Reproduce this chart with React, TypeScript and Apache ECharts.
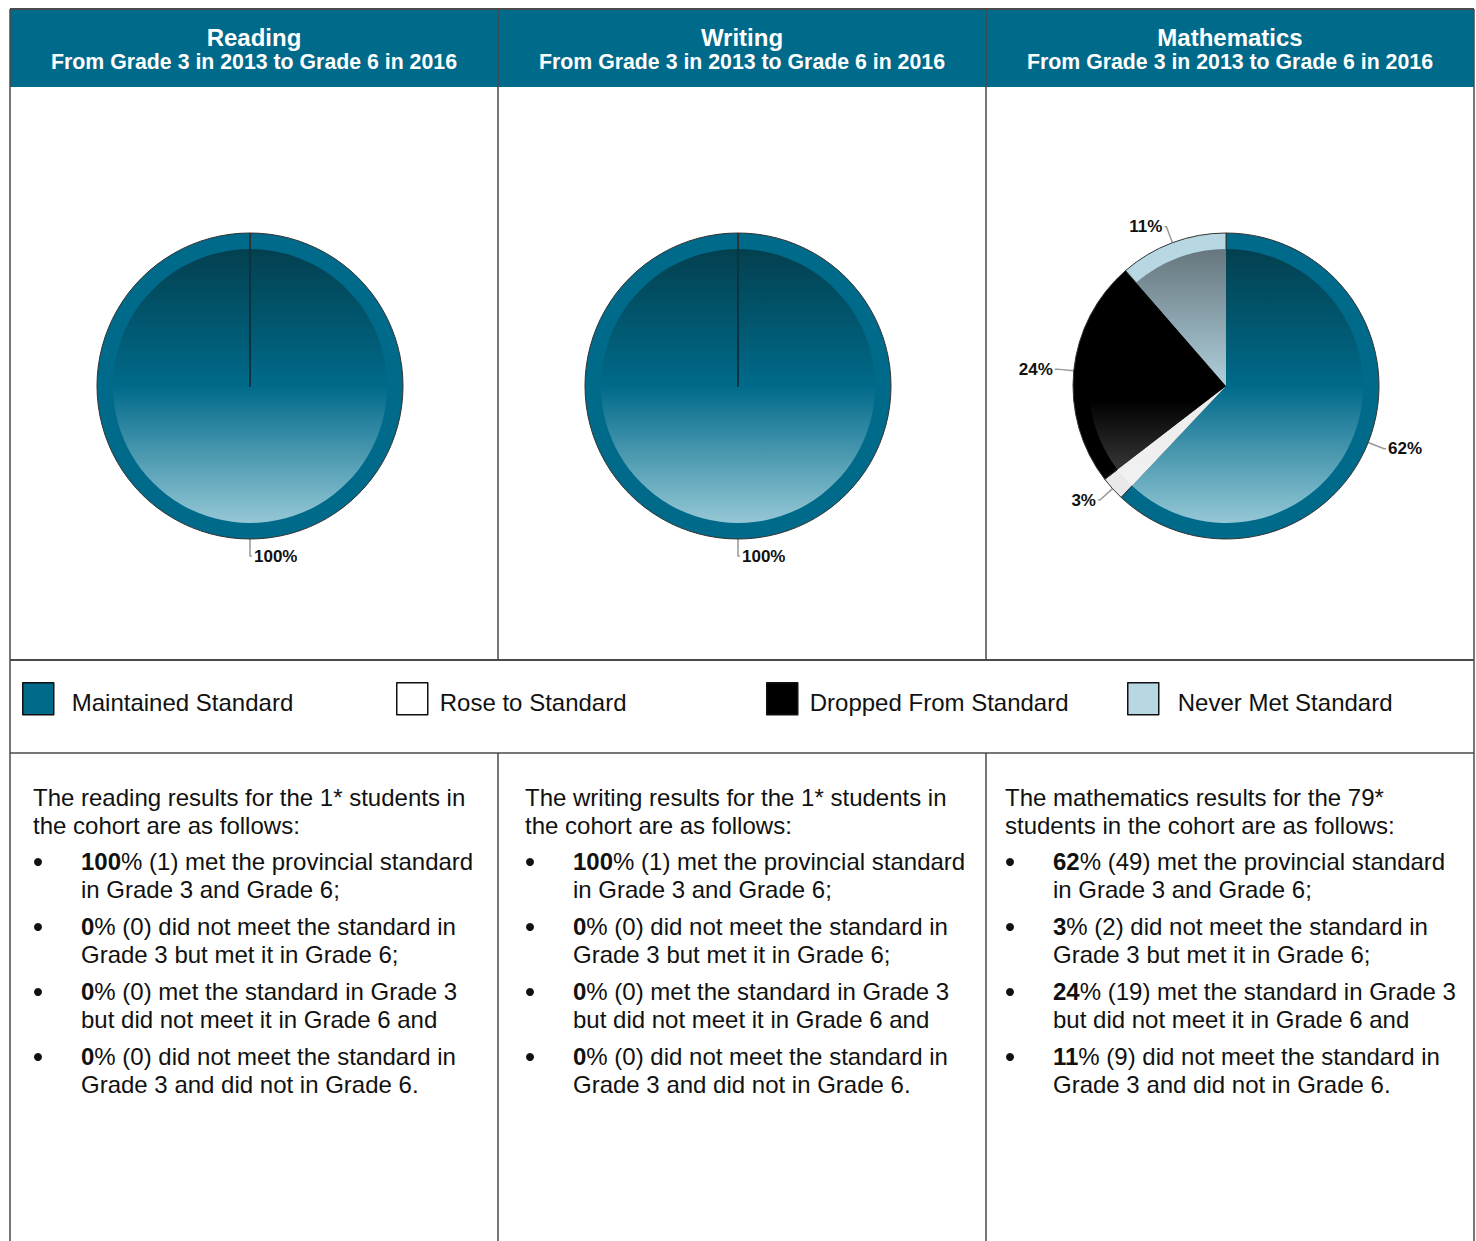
import React, { useEffect, useRef } from "react";
import * as echarts from "echarts";

// ---------- data ----------
const subjects = ["Reading", "Writing", "Mathematics"];
const subjectWords = ["reading", "writing", "mathematics"];
const subtitle = "From Grade 3 in 2013 to Grade 6 in 2016";
const categories = [
  "Maintained Standard",
  "Rose to Standard",
  "Dropped From Standard",
  "Never Met Standard",
];
const readingCounts = [1, 0, 0, 0];
const writingCounts = [1, 0, 0, 0];
const mathCounts = [49, 2, 19, 9];
const allCounts = [readingCounts, writingCounts, mathCounts];

// intro paragraph line breaks per subject (N = cohort size, S = subject word)
const introLines = [
  ["The S results for the N* students in", "the cohort are as follows:"],
  ["The S results for the N* students in", "the cohort are as follows:"],
  ["The S results for the N*", "students in the cohort are as follows:"],
];
// bullet sentences (after the bold percentage) split as in the reference
const bulletFirst = [
  "% (N) met the provincial standard",
  "% (N) did not meet the standard in",
  "% (N) met the standard in Grade 3",
  "% (N) did not meet the standard in",
];
const bulletSecond = [
  "in Grade 3 and Grade 6;",
  "Grade 3 but met it in Grade 6;",
  "but did not meet it in Grade 6 and",
  "Grade 3 and did not in Grade 6.",
];

// ---------- styles / layout ----------
const FONT = "'Liberation Sans', Arial, Helvetica, sans-serif";
const TEAL = "#006A8A";
const ringColors = [TEAL, "#E9E9E9", "#000000", "#B7D7E2"];
const innerStops = [
  [
    [0, "#03404F"],
    [0.5, "#006A8A"],
    [1, "#95C7D5"],
  ],
  [
    [0, "#E4E4E4"],
    [1, "#F3F3F3"],
  ],
  [
    [0, "#000000"],
    [0.55, "#000000"],
    [1, "#606060"],
  ],
  [
    [0, "#66767E"],
    [0.5, "#AECFDB"],
    [1, "#C9E5EE"],
  ],
];

const W = 1476;
const H = 1241;
const colX = [10, 498, 986, 1474];
const TOP = 9;
const HEADER_BOTTOM = 87;
const PIE_ROW_BOTTOM = 660;
const LEGEND_BOTTOM = 753;
const PIE_CY = 386;
const R_OUT = 153;
const R_IN = 137;
const introOffset = [23, 27, 19];
const legendX = [22, 396, 766, 1127];
const legendGap = [13, 7, 7, 14];
const BODY_SIZE = 24;
const LINE_H = 28;
const INTRO_Y = 797;
const BULLET_Y0 = 861;
const BULLET_STEP = 65;

function buildOption() {
  const graphics: any[] = [];
  // header band
  graphics.push({
    type: "rect",
    shape: { x: colX[0], y: TOP, width: colX[3] - colX[0], height: HEADER_BOTTOM - TOP },
    style: { fill: TEAL },
    z: 0,
  });
  // header texts
  for (let k = 0; k < 3; k++) {
    const cx = (colX[k] + colX[k + 1]) / 2;
    graphics.push({
      type: "text",
      x: cx,
      y: 37,
      style: {
        text: subjects[k],
        fill: "#fff",
        fontFamily: FONT,
        fontWeight: "bold",
        fontSize: 24,
        align: "center",
        verticalAlign: "middle",
        textAlign: "center",
        textVerticalAlign: "middle",
      },
      z: 2,
    });
    graphics.push({
      type: "text",
      x: cx,
      y: 62,
      style: {
        text: subtitle,
        fill: "#fff",
        fontFamily: FONT,
        fontWeight: "bold",
        fontSize: 21.3,
        align: "center",
        verticalAlign: "middle",
        textAlign: "center",
        textVerticalAlign: "middle",
      },
      z: 2,
    });
  }
  // table lines
  const lineStyle = { stroke: "#4a4a4a", lineWidth: 1.5 };
  const hl = (y: number, w = 1.5) =>
    graphics.push({
      type: "line",
      shape: { x1: colX[0], y1: y, x2: colX[3], y2: y },
      style: { ...lineStyle, lineWidth: w },
      z: 3,
    });
  hl(TOP, 2);
  hl(PIE_ROW_BOTTOM, 2);
  hl(LEGEND_BOTTOM, 1.5);
  for (let i = 0; i < 4; i++) {
    graphics.push({
      type: "line",
      shape: { x1: colX[i], y1: TOP, x2: colX[i], y2: PIE_ROW_BOTTOM },
      style: { ...lineStyle },
      z: 3,
    });
    graphics.push({
      type: "line",
      shape: {
        x1: colX[i],
        y1: i === 0 || i === 3 ? PIE_ROW_BOTTOM : LEGEND_BOTTOM,
        x2: colX[i],
        y2: H,
      },
      style: { ...lineStyle },
      z: 3,
    });
  }

  // body texts
  for (let k = 0; k < 3; k++) {
    const counts = allCounts[k];
    const total = counts.reduce((a, b) => a + b, 0);
    const left = colX[k] + introOffset[k];
    introLines[k].forEach((ln, j) => {
      graphics.push({
        type: "text",
        x: left,
        y: INTRO_Y + j * LINE_H,
        style: {
          text: ln.replace("S", subjectWords[k]).replace("N", String(total)),
          fill: "#111",
          fontFamily: FONT,
          fontSize: BODY_SIZE,
          align: "left",
          verticalAlign: "middle",
          textAlign: "left",
          textVerticalAlign: "middle",
        },
      });
    });
    counts.forEach((v, i) => {
      const pct = total > 0 ? Math.round((v / total) * 100) : 0;
      const y = BULLET_Y0 + i * BULLET_STEP;
      graphics.push({
        type: "circle",
        shape: { cx: left + 5, cy: y + 1, r: 4 },
        style: { fill: "#111" },
      });
      graphics.push({
        type: "text",
        x: left + 48,
        y,
        style: {
          text: `{b|${pct}}{r|${bulletFirst[i].replace("N", String(v))}}`,
          fill: "#111",
          fontFamily: FONT,
          fontSize: BODY_SIZE,
          align: "left",
          verticalAlign: "middle",
          textAlign: "left",
          textVerticalAlign: "middle",
          rich: {
            b: { fontFamily: FONT, fontSize: BODY_SIZE, fontWeight: "bold", fill: "#111", color: "#111" },
            r: { fontFamily: FONT, fontSize: BODY_SIZE, fill: "#111", color: "#111" },
          },
        },
      });
      graphics.push({
        type: "text",
        x: left + 48,
        y: y + LINE_H,
        style: {
          text: bulletSecond[i],
          fill: "#111",
          fontFamily: FONT,
          fontSize: BODY_SIZE,
          align: "left",
          verticalAlign: "middle",
          textAlign: "left",
          textVerticalAlign: "middle",
        },
      });
    });
  }

  // pies
  const series: any[] = [];
  for (let k = 0; k < 3; k++) {
    const counts = allCounts[k];
    const cx = (colX[k] + colX[k + 1]) / 2 - 4;
    series.push({
      type: "pie",
      name: subjects[k],
      center: [cx, PIE_CY],
      radius: [0, R_OUT],
      startAngle: 90,
      clockwise: true,
      percentPrecision: 0,
      avoidLabelOverlap: false,
      emphasis: { disabled: true },
      z: 2,
      itemStyle: { borderColor: "#333", borderWidth: 1 },
      label: {
        show: true,
        position: "outside",
        formatter: "{d}%",
        fontFamily: FONT,
        fontWeight: "bold",
        fontSize: 17,
        color: "#111",
        distanceToLabelLine: 2,
      },
      labelLine: {
        show: true,
        length: 17,
        length2: 2,
        lineStyle: { color: "#999", width: 1.5 },
      },
      data: categories.map((name, i) => ({
        name,
        value: counts[i],
        itemStyle: { color: ringColors[i] },
        label: { show: counts[i] > 0 },
        labelLine: { show: counts[i] > 0 },
      })),
    });
    series.push({
      type: "pie",
      name: subjects[k] + " inner",
      center: [cx, PIE_CY],
      radius: [0, R_IN],
      startAngle: 90,
      clockwise: true,
      silent: true,
      z: 3,
      emphasis: { disabled: true },
      label: { show: false },
      labelLine: { show: false },
      data: categories.map((name, i) => ({
        name,
        value: counts[i],
        itemStyle:
          counts[i] > 0
            ? {
                color: new echarts.graphic.LinearGradient(
                  0,
                  PIE_CY - R_IN,
                  0,
                  PIE_CY + R_IN,
                  innerStops[i].map(([o, c]) => ({ offset: o as number, color: c as string })),
                  true
                ),
                borderWidth: 0,
              }
            : { color: "rgba(0,0,0,0)", borderColor: "#0B3542", borderWidth: 1.5 },
      })),
    });
  }

  const legends = categories.map((name, i) => ({
    left: legendX[i],
    top: 682,
    padding: 0,
    itemWidth: 31,
    itemHeight: 32,
    icon: "rect",
    selectedMode: false,
    formatter: (n: string) => `{a|${n}}`,
    data: [
      {
        name,
        itemStyle: {
          color: ringColors[i] === "#E9E9E9" ? "#FFFFFF" : ringColors[i],
          borderColor: "#111",
          borderWidth: 1.5,
        },
      },
    ],
    textStyle: {
      fontFamily: FONT,
      fontSize: BODY_SIZE,
      color: "#111",
      padding: [0, 0, 0, legendGap[i]],
      rich: {
        a: {
          fontFamily: FONT,
          fontSize: BODY_SIZE,
          color: "#111",
          padding: [8, 0, 0, 0],
        },
      },
    },
  }));

  return {
    animation: false,
    backgroundColor: "#fff",
    legend: legends,
    series,
    graphic: { elements: graphics },
  };
}

export default function App() {
  const ref = useRef<HTMLDivElement>(null);
  useEffect(() => {
    if (!ref.current) return;
    const chart = echarts.init(ref.current, undefined, { renderer: "svg" });
    chart.setOption(buildOption() as any);
    return () => chart.dispose();
  }, []);
  return (
    <div
      ref={ref}
      style={{ position: "absolute", left: 0, top: 0, width: W, height: H }}
    />
  );
}
